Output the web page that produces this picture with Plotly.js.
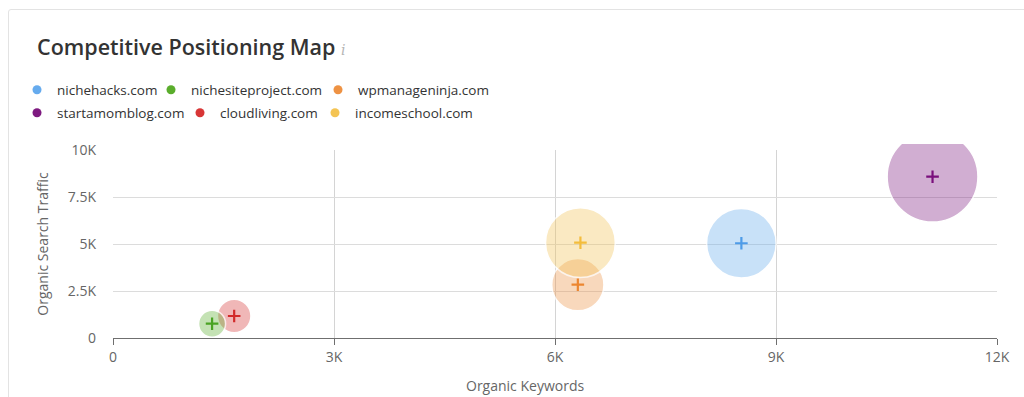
<!DOCTYPE html>
<html>
<head>
<meta charset="utf-8">
<script src="https://cdn.plot.ly/plotly-3.0.1.min.js"></script>
<style>
  html, body { margin: 0; padding: 0; background: #fff; }
  #wrap { position: relative; width: 1024px; height: 397px; overflow: hidden; }
  #card { position: absolute; left: 8px; top: 9px; width: 1040px; height: 420px; border: 1px solid #e3e3e3; border-radius: 3px; }
  #chart { position: absolute; left: 0; top: 0; width: 1024px; height: 397px; }
</style>
</head>
<body>
<div id="wrap">
  <div id="card"></div>
  <div id="chart"></div>
</div>
<script>
// Data
const domains = ['nichehacks.com', 'nichesiteproject.com', 'wpmanageninja.com', 'startamomblog.com', 'cloudliving.com', 'incomeschool.com'];
const organicKeywords = [8530, 1345, 6310, 11125, 1645, 6345];
const organicTraffic = [5040, 760, 2835, 8580, 1170, 5070];
const xTickVals = [0, 3000, 6000, 9000, 12000];
const xTickText = ['0', '3K', '6K', '9K', '12K'];
const yTickVals = [0, 2500, 5000, 7500, 10000];
const yTickText = ['0', '2.5K', '5K', '7.5K', '10K'];

// Styles
const baseColors = ['#66abee', '#5aad2c', '#ee9243', '#7e1a80', '#d83636', '#f4c453'];
const crossColors = ['#4d9be8', '#4aa323', '#ec8630', '#7a0f7c', '#d22a2a', '#f3bd3d'];
function rgba(hex, a) {
  const n = parseInt(hex.slice(1), 16);
  return 'rgba(' + ((n >> 16) & 255) + ',' + ((n >> 8) & 255) + ',' + (n & 255) + ',' + a + ')';
}
// legend placement (one legend per entry, pixel positions of the swatch)
const legendDotX = [38, 172, 339, 38, 201, 336];
const legendRowY = [90, 90, 90, 113, 113, 113];
const bubbleOrder = [3, 0, 2, 4, 1, 5]; // drawing order (back to front)

const font = "'Open Sans', 'Noto Sans', sans-serif";
const traces = [];
const legends = {};
// legend entries
domains.forEach((d, i) => {
  const key = i === 0 ? 'legend' : 'legend' + (i + 1);
  traces.push({
    type: 'scatter', mode: 'markers', x: [null], y: [null], name: d,
    legend: key, hoverinfo: 'skip',
    marker: { color: baseColors[i], size: 9, symbol: 'circle' }
  });
  legends[key] = {
    orientation: 'h', xref: 'container', yref: 'container',
    x: (legendDotX[i] - 3 - 18) / 1024, xanchor: 'left',
    y: 1 - legendRowY[i] / 397, yanchor: 'middle',
    font: { family: font, size: 13.5, color: '#333' }, itemclick: false
  };
});
// bubbles (area ∝ traffic)
bubbleOrder.forEach(i => {
  traces.push({
    type: 'scatter', mode: 'markers', x: [organicKeywords[i]], y: [organicTraffic[i]],
    name: domains[i], showlegend: false, cliponaxis: false,
    marker: { size: [organicTraffic[i]], sizemode: 'area', sizeref: 2.08,
              color: rgba(baseColors[i], 0.5), line: { color: '#ffffff', width: 1.5 } }
  });
});
// centre crosses
domains.forEach((d, i) => {
  traces.push({
    type: 'scatter', mode: 'markers', x: [organicKeywords[i]], y: [organicTraffic[i]],
    name: d, showlegend: false, cliponaxis: false, hoverinfo: 'skip',
    marker: { symbol: 'cross-thin', size: 9, line: { color: crossColors[i], width: 2.2 }, color: crossColors[i] }
  });
});

const layout = Object.assign({
  width: 1024, height: 397,
  margin: { l: 113, r: 27, t: 150, b: 59 },
  paper_bgcolor: 'rgba(0,0,0,0)', plot_bgcolor: 'rgba(0,0,0,0)',
  font: { family: font, color: '#555', size: 13 },
  title: {
    text: 'Competitive Positioning Map <span style="font-family:DejaVu Serif;font-style:italic;font-size:14px;color:#b5b5b5;font-weight:400">i</span>',
    x: 37 / 1024, xanchor: 'left', xref: 'container',
    y: 1 - 47 / 397, yanchor: 'middle', yref: 'container',
    font: { family: font, size: 21.5, color: '#333', weight: 600 }
  },
  showlegend: true,
  xaxis: {
    range: [0, 12000], tickvals: xTickVals, ticktext: xTickText,
    showgrid: true, gridcolor: '#d4d4d4', gridwidth: 1, zeroline: false,
    showline: true, linecolor: '#6f6f6f', linewidth: 1,
    ticks: 'outside', ticklen: 6, tickcolor: '#6f6f6f',
    tickfont: { size: 14, color: '#666' }, fixedrange: true
  },
  yaxis: {
    range: [0, 10000], tickvals: yTickVals, ticktext: yTickText,
    showgrid: true, gridcolor: '#dcdcdc', gridwidth: 1, zeroline: false,
    showline: false, ticks: '', ticklabelstandoff: 16,
    tickfont: { size: 14, color: '#666' }, fixedrange: true,
    title: { text: 'Organic Search Traffic', font: { size: 14, color: '#666' }, standoff: 15 }
  },
  annotations: [{
    text: 'Organic Keywords', xref: 'paper', yref: 'paper',
    x: (525 - 113) / 884, y: -(385 - 338) / 188, xanchor: 'center', yanchor: 'middle',
    showarrow: false, font: { size: 14, color: '#666' }
  }],
  shapes: [{
    type: 'rect', xref: 'paper', yref: 'paper', layer: 'above',
    x0: 0.7, x1: 1.02, y0: 1 + 6 / 188, y1: 1 + 24 / 188,
    fillcolor: '#ffffff', line: { width: 0 }
  }]
}, legends);

Plotly.newPlot('chart', traces, layout, { displayModeBar: false, staticPlot: true });
</script>
</body>
</html>
